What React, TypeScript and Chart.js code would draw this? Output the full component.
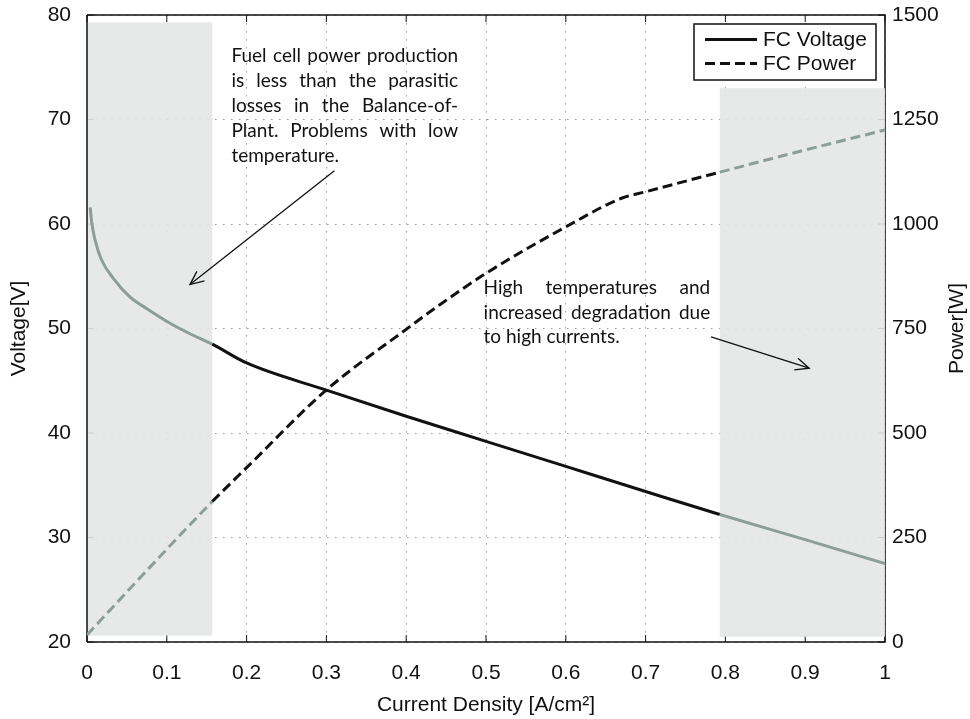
import React, { useEffect, useRef } from 'react';
import { Chart, registerables } from 'chart.js';

Chart.register(...registerables);

// ---- data ----
const currentV = [0.004, 0.006, 0.010, 0.018, 0.033, 0.054, 0.075, 0.104, 0.129, 0.157, 0.2, 0.3, 0.4, 0.5, 0.6, 0.7, 0.793, 0.9, 1.0];
const voltage = [61.6, 60.1, 58.5, 56.6, 54.8, 53.0, 51.9, 50.5, 49.5, 48.5, 46.7, 44.1, 41.6, 39.2, 36.8, 34.4, 32.2, 29.8, 27.5];
const currentP = [0.0, 0.1, 0.157, 0.2, 0.3, 0.4, 0.443, 0.5, 0.6, 0.669, 0.7, 0.793, 0.9, 1.0];
const power = [17, 222, 336, 417, 603, 748, 808, 882, 993, 1061, 1077, 1124, 1177, 1225];
const xTickLabels = ['0', '0.1', '0.2', '0.3', '0.4', '0.5', '0.6', '0.7', '0.8', '0.9', '1'];
const seriesNames = ['FC Voltage', 'FC Power'];
const axisTitles = ['Current Density [A/cm²]', 'Voltage[V]', 'Power[W]'];

// shaded regions: [current range], [voltage range]
const lowRegion = [0, 0.157];
const lowRegionV = [20.6, 79.3];
const highRegion = [0.793, 1.0];
const highRegionV = [20.5, 73.0];

const note1Lines = [
  'Fuel cell power production',
  'is less than the parasitic',
  'losses in the Balance-of-',
  'Plant. Problems with low',
  'temperature.',
];
const note2Lines = [
  'High temperatures and',
  'increased degradation due',
  'to high currents.',
];
const note1Span = [0.181, 0.465];
const note1TopV = 75.5;
const note2Span = [0.497, 0.781];
const note2TopV = 53.3;
const arrow1 = [[0.310, 65.1], [0.129, 54.2]];
const arrow2 = [[0.782, 49.2], [0.905, 46.2]];

const BLACK = '#111111';
const GRAY_LINE = '#8d9d99';
const TICK_FONT = '"Liberation Sans", Arial, sans-serif';
const NOTE_FONT = 'Lato, "Open Sans", sans-serif';

function inShade(ctx: any) {
  return ctx.p1.parsed.x <= lowRegion[1] + 1e-6 || ctx.p0.parsed.x >= highRegion[0] - 1e-6;
}

function drawJustified(ctx: CanvasRenderingContext2D, lines: string[], x: number, y: number, width: number, lh: number) {
  lines.forEach((ln, i) => {
    const words = ln.split(' ');
    const by = y + i * lh;
    if (i === lines.length - 1 || words.length === 1) {
      ctx.fillText(ln, x, by);
      return;
    }
    const wsum = words.reduce((s, w) => s + ctx.measureText(w).width, 0);
    const gap = (width - wsum) / (words.length - 1);
    let cx = x;
    words.forEach((w) => {
      ctx.fillText(w, cx, by);
      cx += ctx.measureText(w).width + gap;
    });
  });
}

function drawArrow(ctx: CanvasRenderingContext2D, x0: number, y0: number, x1: number, y1: number) {
  ctx.beginPath();
  ctx.moveTo(x0, y0);
  ctx.lineTo(x1, y1);
  ctx.stroke();
  const ang = Math.atan2(y1 - y0, x1 - x0);
  const L = 15;
  const sp = 0.42;
  ctx.beginPath();
  ctx.moveTo(x1 - L * Math.cos(ang - sp), y1 - L * Math.sin(ang - sp));
  ctx.lineTo(x1, y1);
  ctx.lineTo(x1 - L * Math.cos(ang + sp), y1 - L * Math.sin(ang + sp));
  ctx.stroke();
}

const overlayPlugin = {
  id: 'overlay',
  beforeDatasetsDraw(chart: any) {
    const { ctx, chartArea: a, scales } = chart;
    const xs = scales.x;
    const ys = scales.y;
    ctx.save();
    // frame (top, right, bottom)
    ctx.strokeStyle = BLACK;
    ctx.lineWidth = 1.5;
    ctx.beginPath();
    ctx.moveTo(a.left, a.top);
    ctx.lineTo(a.right, a.top);
    ctx.lineTo(a.right, a.bottom);
    ctx.lineTo(a.left, a.bottom);
    ctx.stroke();
    // inward ticks
    ctx.lineWidth = 1;
    ctx.beginPath();
    xs.ticks.forEach((t: any) => {
      const px = xs.getPixelForValue(t.value);
      ctx.moveTo(px, a.bottom);
      ctx.lineTo(px, a.bottom - 7);
      ctx.moveTo(px, a.top);
      ctx.lineTo(px, a.top + 7);
    });
    ys.ticks.forEach((t: any) => {
      const py = ys.getPixelForValue(t.value);
      ctx.moveTo(a.left, py);
      ctx.lineTo(a.left + 7, py);
      ctx.moveTo(a.right, py);
      ctx.lineTo(a.right - 7, py);
    });
    ctx.stroke();
    // shaded regions
    ctx.fillStyle = 'rgba(227,231,229,0.9)';
    [[lowRegion, lowRegionV], [highRegion, highRegionV]].forEach(([r, v]) => {
      const x0 = xs.getPixelForValue(r[0]);
      const x1 = xs.getPixelForValue(r[1]);
      const y0 = ys.getPixelForValue(v[1]);
      const y1 = ys.getPixelForValue(v[0]);
      ctx.fillRect(x0, y0, x1 - x0, y1 - y0);
    });
    // left border on top
    ctx.strokeStyle = BLACK;
    ctx.lineWidth = 1.5;
    ctx.beginPath();
    ctx.moveTo(a.left, a.top);
    ctx.lineTo(a.left, a.bottom);
    ctx.stroke();
    ctx.restore();
  },
  afterDraw(chart: any) {
    const { ctx, chartArea: a, scales } = chart;
    const xs = scales.x;
    const ys = scales.y;
    ctx.save();
    // right axis title (reads bottom-to-top)
    ctx.fillStyle = BLACK;
    ctx.font = `21px ${TICK_FONT}`;
    ctx.textAlign = 'center';
    ctx.textBaseline = 'middle';
    ctx.translate(chart.width - 13, (a.top + a.bottom) / 2);
    ctx.rotate(-Math.PI / 2);
    ctx.fillText(axisTitles[2], 0, 0);
    ctx.setTransform(1, 0, 0, 1, 0, 0);
    // notes
    ctx.fillStyle = BLACK;
    ctx.textBaseline = 'alphabetic';
    ctx.textAlign = 'left';
    const w1 = xs.getPixelForValue(note1Span[1]) - xs.getPixelForValue(note1Span[0]);
    ctx.font = `19px ${NOTE_FONT}`;
    const s = note1Lines[0];
    const natural = ctx.measureText(s).width;
    const ls = Math.max(-1.2, Math.min(0, (w1 - natural) / s.length));
    (ctx as any).letterSpacing = `${ls.toFixed(2)}px`;
    drawJustified(ctx, note1Lines, xs.getPixelForValue(note1Span[0]), ys.getPixelForValue(note1TopV), w1, 25);
    const w2 = xs.getPixelForValue(note2Span[1]) - xs.getPixelForValue(note2Span[0]);
    drawJustified(ctx, note2Lines, xs.getPixelForValue(note2Span[0]), ys.getPixelForValue(note2TopV), w2, 24.7);
    (ctx as any).letterSpacing = '0px';
    // arrows
    ctx.strokeStyle = BLACK;
    ctx.lineWidth = 1.3;
    [arrow1, arrow2].forEach((ar) => {
      drawArrow(ctx, xs.getPixelForValue(ar[0][0]), ys.getPixelForValue(ar[0][1]), xs.getPixelForValue(ar[1][0]), ys.getPixelForValue(ar[1][1]));
    });
    // legend
    const bx1 = a.right - 9;
    const bx0 = bx1 - 182;
    const by0 = a.top + 9;
    const bh = 56;
    ctx.fillStyle = '#ffffff';
    ctx.fillRect(bx0, by0, bx1 - bx0, bh);
    ctx.strokeStyle = BLACK;
    ctx.lineWidth = 1.5;
    ctx.strokeRect(bx0, by0, bx1 - bx0, bh);
    const ds = chart.data.datasets;
    ds.forEach((d: any, i: number) => {
      const ly = by0 + 15.5 + i * 24;
      ctx.strokeStyle = BLACK;
      ctx.lineWidth = 3;
      ctx.setLineDash(d.borderDash || []);
      ctx.beginPath();
      ctx.moveTo(bx0 + 11, ly);
      ctx.lineTo(bx0 + 63, ly);
      ctx.stroke();
      ctx.setLineDash([]);
      ctx.fillStyle = BLACK;
      ctx.font = `21px ${TICK_FONT}`;
      ctx.textAlign = 'left';
      ctx.textBaseline = 'middle';
      ctx.fillText(d.label, bx0 + 69, ly + 1);
    });
    ctx.restore();
  },
};

function zeroPad(s: any) {
  s.paddingTop = 0;
  s.paddingBottom = 0;
  s.paddingLeft = 0;
  s.paddingRight = 0;
}

export default function App() {
  const ref = useRef<HTMLCanvasElement | null>(null);
  useEffect(() => {
    if (!ref.current) return;
    const gridCommon = {
      color: '#9a9a9a',
      lineWidth: 1,
      drawTicks: false,
    };
    const chart = new Chart(ref.current, {
      type: 'line',
      data: {
        datasets: [
          {
            label: seriesNames[0],
            data: currentV.map((c, i) => ({ x: c, y: voltage[i] })),
            yAxisID: 'y',
            borderColor: BLACK,
            backgroundColor: BLACK,
            borderWidth: 3,
            pointRadius: 0,
            cubicInterpolationMode: 'monotone',
            segment: { borderColor: (c: any) => (inShade(c) ? GRAY_LINE : BLACK) },
          },
          {
            label: seriesNames[1],
            data: currentP.map((c, i) => ({ x: c, y: power[i] })),
            yAxisID: 'y1',
            borderColor: BLACK,
            backgroundColor: BLACK,
            borderWidth: 3,
            borderDash: [10, 5],
            pointRadius: 0,
            cubicInterpolationMode: 'monotone',
            segment: { borderColor: (c: any) => (inShade(c) ? GRAY_LINE : BLACK) },
          },
        ],
      },
      options: {
        animation: false,
        responsive: false,
        devicePixelRatio: 1,
        layout: { padding: { top: 15, left: 0, right: 0, bottom: 0 } },
        plugins: {
          legend: { display: false },
          tooltip: { enabled: false },
        },
        scales: {
          x: {
            type: 'linear',
            min: 0,
            max: 1,
            ticks: {
              stepSize: 0.1,
              callback: (_v: any, i: number) => xTickLabels[i],
              font: { size: 21, family: TICK_FONT },
              color: BLACK,
              padding: 19,
              maxRotation: 0,
            },
            grid: gridCommon,
            border: { display: false, dash: [1.5, 6.5] },
            title: {
              display: true,
              text: axisTitles[0],
              font: { size: 21, family: TICK_FONT },
              color: BLACK,
              padding: { top: 0, bottom: 1 },
            },
            afterFit: (s: any) => {
              s.height = 77;
              zeroPad(s);
            },
          },
          y: {
            type: 'linear',
            position: 'left',
            min: 20,
            max: 80,
            ticks: {
              stepSize: 10,
              font: { size: 21, family: TICK_FONT },
              color: BLACK,
              padding: 16,
            },
            grid: gridCommon,
            border: { display: false, dash: [1.5, 6.5] },
            title: {
              display: true,
              text: axisTitles[1],
              font: { size: 21, family: TICK_FONT },
              color: BLACK,
              padding: { top: 7, bottom: 0 },
            },
            afterFit: (s: any) => {
              s.width = 87;
              zeroPad(s);
            },
          },
          y1: {
            type: 'linear',
            position: 'right',
            min: 0,
            max: 1500,
            ticks: {
              stepSize: 250,
              callback: (v: any) => String(v),
              font: { size: 21, family: TICK_FONT },
              color: BLACK,
              padding: 7,
            },
            grid: { drawOnChartArea: false, drawTicks: false },
            border: { display: false },
            title: { display: false },
            afterFit: (s: any) => {
              s.width = 85;
              zeroPad(s);
            },
          },
        },
      } as any,
      plugins: [overlayPlugin],
    });
    return () => chart.destroy();
  }, []);
  return (
    <div style={{ position: 'absolute', left: 0, top: 0, width: 970, height: 719, background: '#fff' }}>
      <canvas ref={ref} width={970} height={719} />
    </div>
  );
}
